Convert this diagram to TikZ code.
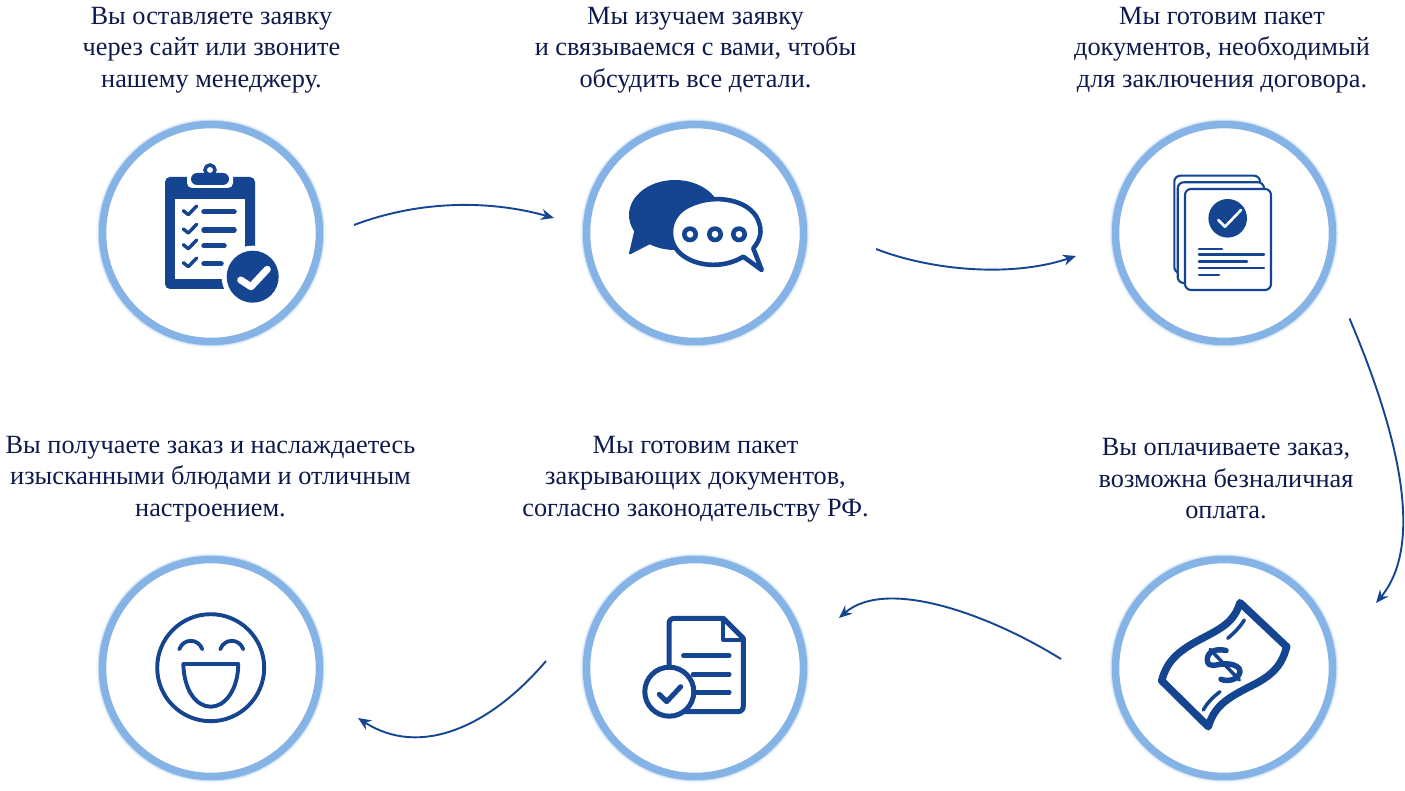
\documentclass[tikz,border=0pt]{standalone}
\usepackage{fontspec}
\setmainfont{Liberation Serif}
\definecolor{azul}{HTML}{154591}
\definecolor{anillo}{HTML}{85B3E5}
\definecolor{tinta}{HTML}{0E1A4B}
\tikzset{
  paso/.style={circle,minimum size=217pt,inner sep=0pt,outer sep=0pt,fill=white,
    draw=anillo,line width=7.5pt,
    preaction={draw=anillo!12,line width=12.5pt},
    preaction={draw=anillo!40,line width=9.5pt}},
  texto/.style={text=tinta,align=center,font=\fontsize{26.3}{31.5}\selectfont},
  flecha/.style={draw=azul,line width=1.9pt,-{Stealth[length=13pt,width=11pt]}},
  icono/.style={draw=azul,line width=#1,line cap=round,line join=round}
}
\usetikzlibrary{arrows.meta}
\begin{document}
\begin{tikzpicture}[x=1pt,y=-1pt]
  \useasboundingbox (0,0) rectangle (1405,791);
  % pasos
  \node[paso] (paso1) at (211,233) {};
  \node[paso] (paso2) at (695,233) {};
  \node[paso] (paso3) at (1224,233) {};
  \node[paso] (paso4) at (1224,668) {};
  \node[paso] (paso5) at (695,668) {};
  \node[paso] (paso6) at (211,668) {};
  % textos
  \node[texto] (texto1) at (211.5,50) {Вы оставляете заявку\\через сайт или звоните\\нашему менеджеру.};
  \node[texto] (texto2) at (695.5,50) {Мы изучаем заявку\\и связываемся с вами, чтобы\\обсудить все детали.};
  \node[texto] (texto3) at (1222,50) {Мы готовим пакет\\документов, необходимый\\для заключения договора.};
  \node[texto] (texto4) at (1226,479) {Вы оплачиваете заказ,\\возможна безналичная\\оплата.};
  \node[texto] (texto5) at (695.5,479) {Мы готовим пакет\\закрывающих документов,\\согласно законодательству РФ.};
  \node[texto] (texto6) at (210.5,479) {Вы получаете заказ и наслаждаетесь\\изысканными блюдами и отличным\\настроением.};
  % flechas
  \draw[flecha] ([shift={(143,-8)}]paso1.center) .. controls (420,200) and (490,200) .. ([shift={(-141,-15)}]paso2.center);
  \draw[flecha] ([shift={(181,16)}]paso2.center) .. controls (930,270) and (1010,278) .. ([shift={(-148,23)}]paso3.center);
  \draw[flecha] ([shift={(125.5,85.5)}]paso3.center) .. controls (1384,400) and (1432,535) .. ([shift={(152,-65)}]paso4.center);
  \draw[flecha] ([shift={(-163,-9)}]paso4.center) .. controls (985,612) and (885,578) .. ([shift={(144,-50)}]paso5.center);
  \draw[flecha] ([shift={(-149,-7)}]paso5.center) .. controls (490,727) and (420,758) .. ([shift={(147,50)}]paso6.center);
  % tablilla
  \fill[azul,rounded corners=5pt] (165,177) rectangle (255,289);
  \fill[white] (175,199) rectangle (245,279);
  \fill[white,rounded corners=5pt] (187,170) rectangle (233,188);
  \fill[azul,rounded corners=6pt] (191,173) rectangle (229,185);
  \draw[azul,line width=3.5pt] (210,170) circle (5);
  \foreach \y/\x in {0/235,18.3/235,34/225,52/222} {
    \draw[icono=3.4pt] (183.3,210.7+\y) -- (188.3,214.7+\y) -- (196.7,206+\y);
    \draw[icono=5.5pt] (204,211.7+\y) -- (\x-1,211.7+\y);
  }
  \fill[white] (252.7,276.7) circle (31);
  \fill[azul] (252.7,276.7) circle (26);
  \draw[icono=7pt,white] (240.7,280) -- (251,286.7) -- (267.3,269.3);
  % globos
  \fill[azul] (675,215) ellipse (46 and 35);
  \fill[azul,line join=round,draw=azul,line width=2pt] (636,228) -- (630,253.3) -- (652,242) -- cycle;
  \draw[icono=4.6pt,fill=white] (743.3,256.7) .. controls (725,268) and (700,267) .. (685,257) .. controls (665,245) and (666,215) .. (690,205) .. controls (715,193) and (750,200) .. (758,220) .. controls (763,232) and (760,240) .. (753.3,248.3) -- (761.7,270) -- cycle;
  \foreach \x in {690,715,739} \draw[azul,line width=4.6pt] (\x,234.3) circle (5.7);
  % documentos
  \draw[icono=2.1pt,fill=white,rounded corners=6pt] (1174.3,175.7) rectangle (1260,273);
  \draw[icono=2.1pt,fill=white,rounded corners=6pt] (1177.7,182.3) rectangle (1264,283);
  \draw[icono=2.1pt,fill=white,rounded corners=6pt] (1185,189) rectangle (1271,290);
  \fill[azul] (1227.7,218.3) circle (19.3);
  \draw[icono=2.6pt,white] (1218.3,220) -- (1225,226.7) -- (1241,210);
  \foreach \y/\x in {249/1222,254.3/1264,261.7/1247,268/1264,275/1219} \draw[icono=2.6pt] (1199,\y) -- (\x,\y);
  % billete
  \draw[icono=7.5pt] (1240,602.7) -- (1286.7,646.7) .. controls (1281,669) and (1268,678) .. (1247,688) .. controls (1226,699) and (1214,707) .. (1208.3,726.7) -- (1161.7,680.7) .. controls (1167,660) and (1180,650) .. (1201,639) .. controls (1222,628) and (1234,622) .. cycle;
  \draw[icono=3.5pt] (1227.7,638.3) .. controls (1234,633) and (1240,627) .. (1244.3,620);
  \draw[icono=3.5pt] (1203.3,710) .. controls (1207,703) and (1213,697) .. (1220,691.7);
  \draw[icono=5.5pt] (1226,650.5) .. controls (1215,648) and (1207,652) .. (1207.3,660) .. controls (1208,669) and (1216,664) .. (1224,664) .. controls (1234,663) and (1241,668) .. (1240,672) .. controls (1238,680) and (1228,682) .. (1221,679.3);
  \draw[icono=3.5pt] (1210,649.3) -- (1239.3,680);
  % hoja
  \draw[icono=5pt] (669,667) -- (669,624) .. controls (669,620) and (671,618.3) .. (675,618.3) -- (723.3,618.3) -- (743.3,638.3) -- (743.3,706) .. controls (743.3,710) and (741,711.7) .. (737,711.7) -- (680,711.7);
  \draw[icono=4pt] (723.3,618.3) -- (723.3,640) -- (743.3,640);
  \foreach \y/\x in {655.7/683.3,674.3/693,692.3/696} \draw[icono=4.5pt] (\x,\y) -- (729.3,\y);
  \draw[azul,line width=5pt,fill=white] (669.3,691.7) circle (24.5);
  \draw[icono=5pt] (659.3,694.3) -- (666.7,701.7) -- (680.7,686.7);
  % cara
  \draw[azul,line width=3.9pt] (210.7,667.7) circle (53.5);
  \foreach \x in {179.3,220.3} \draw[icono=3.8pt] (\x,649.3) .. controls (\x+4,638) and (\x+19,638) .. (\x+23,649.3);
  \draw[icono=3.9pt] (183.3,664) -- (238.3,664) .. controls (238,690) and (225,706.7) .. (210.8,706.7) .. controls (196,706.7) and (184,690) .. cycle;
\end{tikzpicture}
\end{document}
